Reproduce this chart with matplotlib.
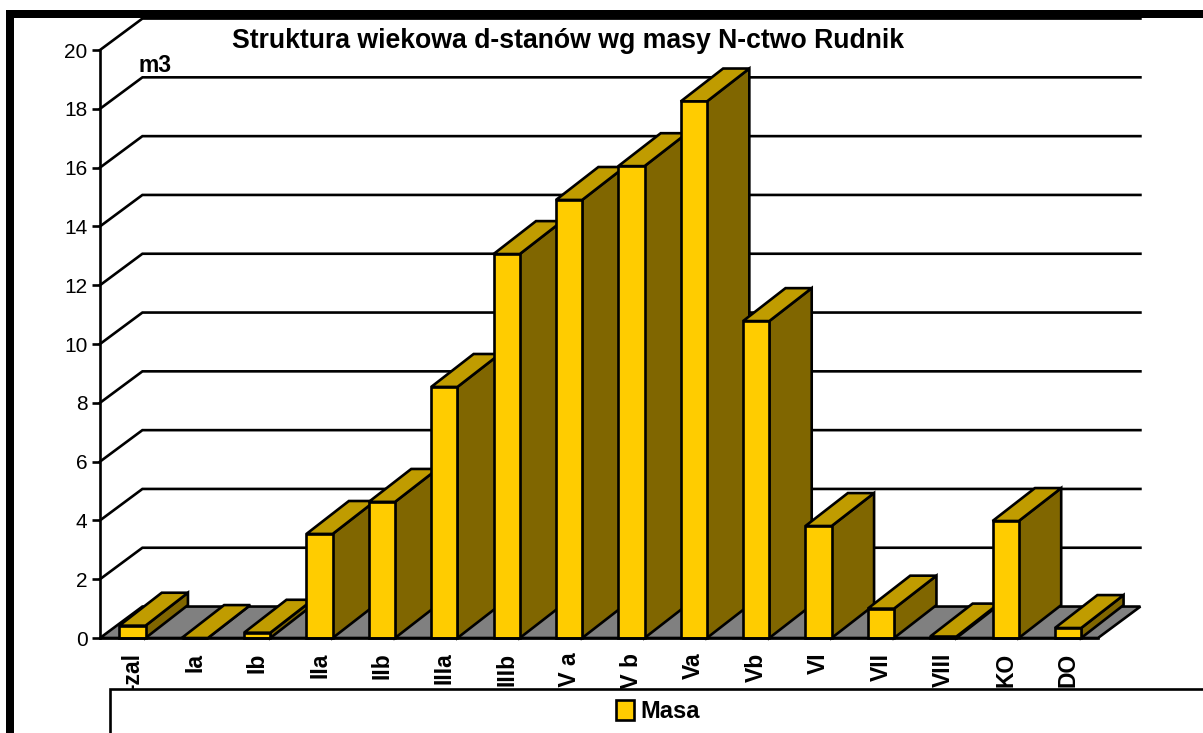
import matplotlib
matplotlib.use("Agg")
import matplotlib.pyplot as plt
from matplotlib.patches import Polygon, Rectangle, Patch

plt.rcParams['font.family'] = ['Liberation Sans', 'DejaVu Sans']

categories = ["-zal", "Ia", "Ib", "IIa", "IIb", "IIIa", "IIIb", "IV a", "IV b", "Va", "Vb", "VI", "VII", "VIII", "KO", "DO"]
masa = [0.42, 0.0, 0.18, 3.54, 4.63, 8.54, 13.06, 14.9, 16.05, 18.25, 10.78, 3.81, 1.0, 0.05, 3.98, 0.34]
y_ticks = list(range(0, 21, 2))
title = "Struktura wiekowa d-stanów wg masy N-ctwo Rudnik"
unit = "m3"
legend_label = "Masa"

W, H = 1203, 733
FRONT = "#FFCC00"
TOP = "#C09C00"
SIDE = "#806600"
FLOOR = "#808080"
LW = 1.9

fig = plt.figure(figsize=(W / 100, H / 100), dpi=100, facecolor="white")
ax = fig.add_axes([100 / W, (H - 638) / H, 998 / W, 588 / H], facecolor="none")
ax.set_xlim(-0.52, 15.48)
ax.set_ylim(0, 20)

# depth of the pseudo-3D box, in data units
grid_dx, grid_dy = 0.68, 1.07
bar_dx, bar_dy = 0.68, 1.12
bar_w = 0.42

# walls and floor
x0, x1 = ax.get_xlim()
ax.add_patch(Polygon([(x0, 0), (x0 + grid_dx, grid_dy), (x1 + grid_dx, grid_dy), (x1, 0)],
                     closed=True, fc=FLOOR, ec="black", lw=LW, clip_on=False, zorder=2, joinstyle="miter"))
for v in y_ticks[1:]:
    ax.plot([x0, x0 + grid_dx, x1 + grid_dx], [v, v + grid_dy, v + grid_dy],
            color="black", lw=LW, clip_on=False, zorder=1, solid_joinstyle="miter")

# bars
for i, v in enumerate(masa):
    l, r = i - bar_w / 2, i + bar_w / 2
    z = 3 + i * 0.01
    style = dict(closed=True, ec="black", lw=LW, clip_on=False, zorder=z, joinstyle="miter")
    ax.add_patch(Polygon([(r, 0), (r + bar_dx, bar_dy), (r + bar_dx, v + bar_dy), (r, v)], fc=SIDE, **style))
    ax.add_patch(Polygon([(l, v), (l + bar_dx, v + bar_dy), (r + bar_dx, v + bar_dy), (r, v)], fc=TOP, **style))
    ax.add_patch(Polygon([(l, 0), (l, v), (r, v), (r, 0)], fc=FRONT, **style))

# axes
for s in ("top", "right"):
    ax.spines[s].set_visible(False)
for s in ("left", "bottom"):
    ax.spines[s].set_linewidth(LW)
    ax.spines[s].set_zorder(6)
ax.set_yticks(y_ticks)
ax.tick_params(axis="y", length=6, width=LW, pad=3, labelsize=15)
ax.set_xticks(range(len(categories)))
ax.set_xticklabels(categories, rotation=90, fontweight="bold", fontsize=16.5, va="top", ha="center")
ax.tick_params(axis="x", length=0, pad=10.5)

# texts
fig.text(568 / W, 1 - 41 / H, title, fontsize=19.2, fontweight="bold", ha="center", va="center")
fig.text(138 / W, 1 - 66 / H, unit, fontsize=16.5, fontweight="bold", ha="left", va="center")

# legend frame covering the label ends
fig.add_artist(Rectangle((110 / W, -20 / H), 1200 / W, (H - 689 + 20) / H, transform=fig.transFigure,
                         fc="white", ec="black", lw=LW, zorder=5))
leg = fig.legend(handles=[Patch(fc=FRONT, ec="black", lw=LW, label=legend_label)],
                 loc="center", bbox_to_anchor=(658 / W, 1 - 711.5 / H), frameon=False,
                 prop=dict(size=17, weight="bold"), handlelength=0.75, handleheight=0.9,
                 handletextpad=0.3, borderpad=0)
leg.set_zorder(6)

# outer picture frame
fig.add_artist(Rectangle((6 / W, 0), 8 / W, (H - 10) / H, transform=fig.transFigure, fc="black", ec="none", zorder=7))
fig.add_artist(Rectangle((6 / W, (H - 18) / H), (W - 6) / W, 8 / H, transform=fig.transFigure, fc="black", ec="none", zorder=7))

fig.savefig("out.png", dpi=100)
